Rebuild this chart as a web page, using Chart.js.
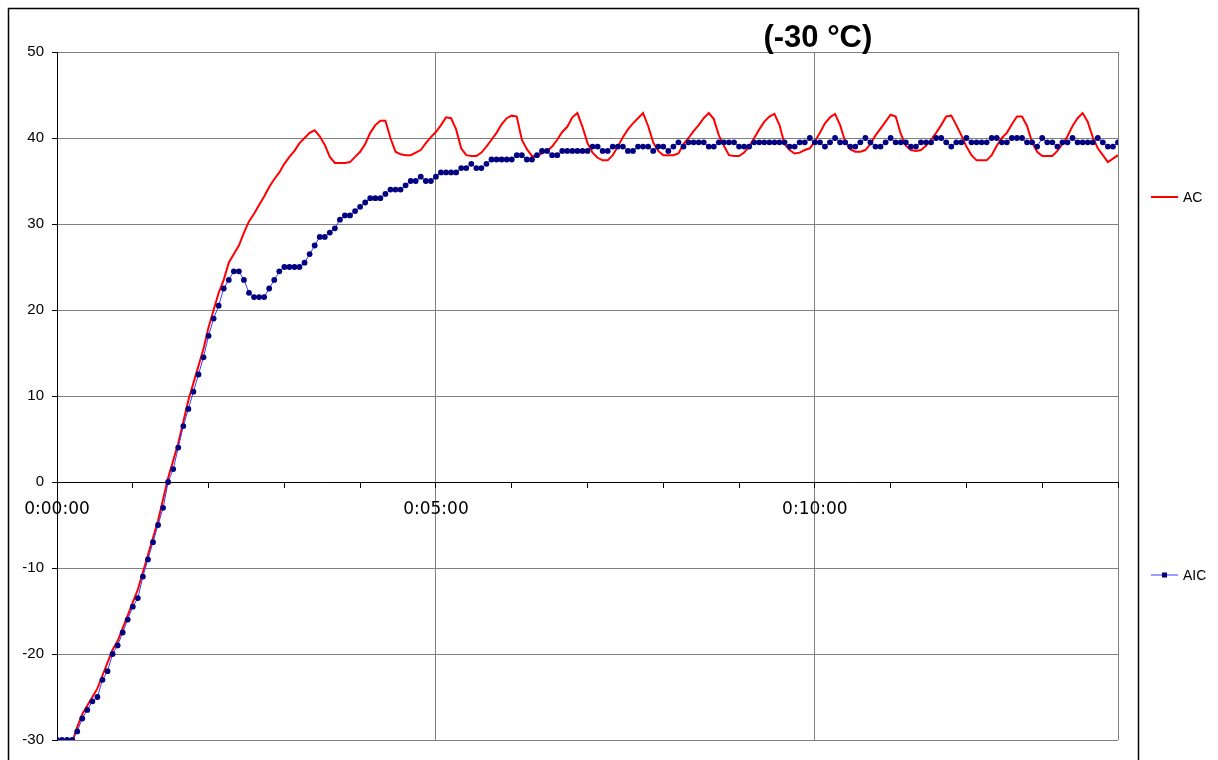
<!DOCTYPE html>
<html>
<head>
<meta charset="utf-8">
<script src="https://cdn.jsdelivr.net/npm/chart.js@4.4.1/dist/chart.umd.min.js"></script>
<style>
  html, body { margin: 0; padding: 0; background: #fff; }
  #wrap { width: 1218px; height: 760px; }
</style>
</head>
<body>
<div id="wrap"><canvas id="tempChart" width="1218" height="760"></canvas></div>
<script>
// one sample every 4 s, 0:00:00 .. 0:14:00
const sampleStep = 4;

const acTemp = [
  -30.3, -30.3, -30.3, -30.3,
  -28.5, -27, -26, -25, -24, -22.5, -21, -19.5, -18.5,
  -17, -15.5, -14, -12.5, -10.5, -8.5, -6.5, -4.5, -2, 0.5,
  2.5, 4.5, 7, 9.5, 11.5, 13.5, 15.5, 18, 20, 22, 23.5, 25.5,
  26.5, 27.5, 29, 30.3, 31.2, 32.2, 33.2, 34.3, 35.2, 36, 37, 37.8, 38.5, 39.4,
  40, 40.6, 40.9, 40.2, 39.2, 37.8, 37.1, 37.1, 37.1, 37.2, 37.8, 38.4,
  39.3, 40.6, 41.5, 42, 42, 40, 38.4, 38.1, 38, 38, 38.3, 38.6, 39.4, 40.1, 40.7,
  41.5, 42.4, 42.3, 41, 38.8, 38, 37.9, 37.9, 38.3, 39, 39.8, 40.6, 41.6, 42.3, 42.6,
  42.5, 39.8, 38.7, 37.9, 37.9, 38.2, 38.5, 39, 39.8, 40.7, 41.3, 42.4, 42.9, 41.3, 39.4,
  38.3, 37.7, 37.4, 37.4, 38, 39, 40.1, 41, 41.7, 42.3, 42.9, 41.4, 39.5, 38.5, 38, 38, 38,
  38.2, 39.3, 40, 40.8, 41.5, 42.3, 42.9, 42.2, 40.3, 39.1, 38, 37.9, 37.9, 38.3, 39,
  40, 41, 41.9, 42.5, 42.8, 41.5, 39.3, 38.6, 38.2, 38.3, 38.6, 38.8, 39.6,
  40.6, 41.7, 42.4, 42.8, 41.5, 39.6, 38.7, 38.4, 38.4, 38.6, 39.3, 40.3, 41.1, 41.9, 42.7,
  42.5, 40.5, 39.1, 38.6, 38.5, 38.6, 39.1, 39.8, 40.6, 41.5, 42.5, 42.6, 41.5, 40.3, 39,
  38, 37.4, 37.4, 37.4, 38, 39.1, 40, 40.6, 41.6, 42.5, 42.5, 41.4, 39.5, 38.4, 37.9,
  37.9, 37.9, 38.5, 39.3, 40.2, 41.4, 42.3, 42.9, 41.9, 40.1, 38.8, 38, 37.2, 37.6, 38
];

const aicTemp = [
  -30, -30, -30, -30,
  -29, -27.5, -26.5, -25.5, -25, -23, -22, -20, -19,
  -17.5, -16, -14.5, -13.5, -11, -9, -7, -5, -3, 0,
  1.5, 4, 6.5, 8.5, 10.5, 12.5, 14.5, 17, 19, 20.5, 22.5, 23.5,
  24.5, 24.5, 23.5, 22, 21.5, 21.5, 21.5, 22.5, 23.5, 24.5, 25, 25, 25, 25,
  25.5, 26.5, 27.5, 28.5, 28.5, 29, 29.5, 30.5, 31, 31, 31.5, 32,
  32.5, 33, 33, 33, 33.5, 34, 34, 34, 34.5, 35, 35, 35.5, 35, 35, 35.5,
  36, 36, 36, 36, 36.5, 36.5, 37, 36.5, 36.5, 37, 37.5, 37.5, 37.5, 37.5, 37.5,
  38, 38, 37.5, 37.5, 38, 38.5, 38.5, 38, 38, 38.5, 38.5, 38.5, 38.5, 38.5, 38.5,
  39, 39, 38.5, 38.5, 39, 39, 39, 38.5, 38.5, 39, 39, 39, 38.5, 39, 39, 38.5, 39,
  39.5, 39, 39.5, 39.5, 39.5, 39.5, 39, 39, 39.5, 39.5, 39.5, 39.5, 39, 39, 39,
  39.5, 39.5, 39.5, 39.5, 39.5, 39.5, 39.5, 39, 39, 39.5, 39.5, 40, 39.5,
  39.5, 39, 39.5, 40, 39.5, 39.5, 39, 39, 39.5, 40, 39.5, 39, 39, 39.5, 40,
  39.5, 39.5, 39.5, 39, 39, 39.5, 39.5, 39.5, 40, 40, 39.5, 39, 39.5, 39.5, 40,
  39.5, 39.5, 39.5, 39.5, 40, 40, 39.5, 39.5, 40, 40, 40, 39.5, 39.5, 39, 40,
  39.5, 39.5, 39, 39.5, 39.5, 40, 39.5, 39.5, 39.5, 39.5, 40, 39.5, 39, 39, 39.5
];

const yTicks = [-30, -20, -10, 0, 10, 20, 30, 40, 50];
const timeLabelEvery = 300; // labelled ticks and gridlines
const titleText = '(-30 °C)';

function toPoints(values) {
  return values.map((v, i) => ({ x: i * sampleStep, y: v }));
}

function hms(sec) {
  const h = Math.floor(sec / 3600);
  const m = Math.floor((sec % 3600) / 60);
  const s = sec % 60;
  return h + ':' + String(m).padStart(2, '0') + ':' + String(s).padStart(2, '0');
}

const xMax = (acTemp.length - 1) * sampleStep;

// outer frame, title and the two-entry legend on the right
const decorations = {
  id: 'decorations',
  beforeDraw(chart) {
    const ctx = chart.ctx;
    ctx.save();
    ctx.fillStyle = '#fff';
    ctx.fillRect(0, 0, chart.width, chart.height);
    ctx.strokeStyle = '#000';
    ctx.lineWidth = 1.5;
    ctx.beginPath();
    ctx.moveTo(8.5, chart.height);
    ctx.lineTo(8.5, 8.5);
    ctx.lineTo(1138.5, 8.5);
    ctx.lineTo(1138.5, chart.height);
    ctx.stroke();
    ctx.restore();
  },
  afterDraw(chart) {
    const ctx = chart.ctx;
    const xs = chart.scales.x;
    ctx.save();
    ctx.fillStyle = '#000';
    ctx.font = 'bold 31px "Liberation Sans", Arial, sans-serif';
    ctx.textAlign = 'center';
    ctx.textBaseline = 'middle';
    ctx.fillText(titleText, xs.getPixelForValue(600) + 3, 38);

    const ds = chart.data.datasets;
    const rows = [197, 575];
    ctx.font = '14px "Liberation Sans", Arial, sans-serif';
    ctx.textAlign = 'left';
    ds.forEach((d, k) => {
      const y = rows[k];
      ctx.strokeStyle = d.borderColor;
      ctx.lineWidth = d.borderWidth;
      ctx.beginPath();
      ctx.moveTo(1151, y);
      ctx.lineTo(1178, y);
      ctx.stroke();
      if (d.pointRadius > 0) {
        ctx.fillStyle = d.pointBackgroundColor;
        ctx.fillRect(1162, y - 2.5, 5, 5);
      }
      ctx.fillStyle = '#000';
      ctx.fillText(d.label, 1183, y + 1);
    });
    ctx.restore();
  }
};

new Chart(document.getElementById('tempChart'), {
  type: 'line',
  data: {
    datasets: [
      {
        label: 'AC',
        data: toPoints(acTemp),
        borderColor: '#ff0000',
        borderWidth: 2,
        pointRadius: 0,
        tension: 0,
        order: 2
      },
      {
        label: 'AIC',
        data: toPoints(aicTemp),
        borderColor: '#3b3bff',
        borderWidth: 1,
        pointRadius: 2.9,
        pointStyle: 'circle',
        pointBackgroundColor: '#000080',
        pointBorderColor: '#000080',
        pointBorderWidth: 0,
        tension: 0,
        order: 1
      }
    ]
  },
  options: {
    responsive: false,
    devicePixelRatio: 1,
    animation: false,
    layout: { padding: { left: 0, top: 52, right: 100, bottom: 20 } },
    plugins: {
      legend: { display: false },
      tooltip: { enabled: false }
    },
    scales: {
      x: {
        type: 'linear',
        position: { y: 0 },
        min: 0,
        max: xMax,
        ticks: {
          stepSize: 60,
          autoSkip: false,
          maxRotation: 0,
          padding: 12,
          color: '#000',
          font: { family: '"DejaVu Sans", sans-serif', size: 17 },
          callback: v => (v % timeLabelEvery === 0 ? hms(v) : '')
        },
        grid: {
          color: c => (c.tick && (c.tick.value % timeLabelEvery === 0 || c.tick.value === xMax)) ? '#808080' : 'rgba(0,0,0,0)',
          tickColor: '#000',
          tickLength: 5,
          lineWidth: 1
        },
        border: { color: '#000', width: 1 }
      },
      y: {
        min: -30,
        max: 50,
        afterBuildTicks: s => { s.ticks = yTicks.map(v => ({ value: v })); },
        afterFit: s => { s.width = 57; },
        ticks: {
          padding: 8,
          color: '#000',
          font: { family: '"Liberation Sans", Arial, sans-serif', size: 15 }
        },
        grid: {
          color: '#808080',
          tickColor: '#000',
          tickLength: 5,
          lineWidth: 1
        },
        border: { color: '#000', width: 1 }
      }
    }
  },
  plugins: [decorations]
});
</script>
</body>
</html>
